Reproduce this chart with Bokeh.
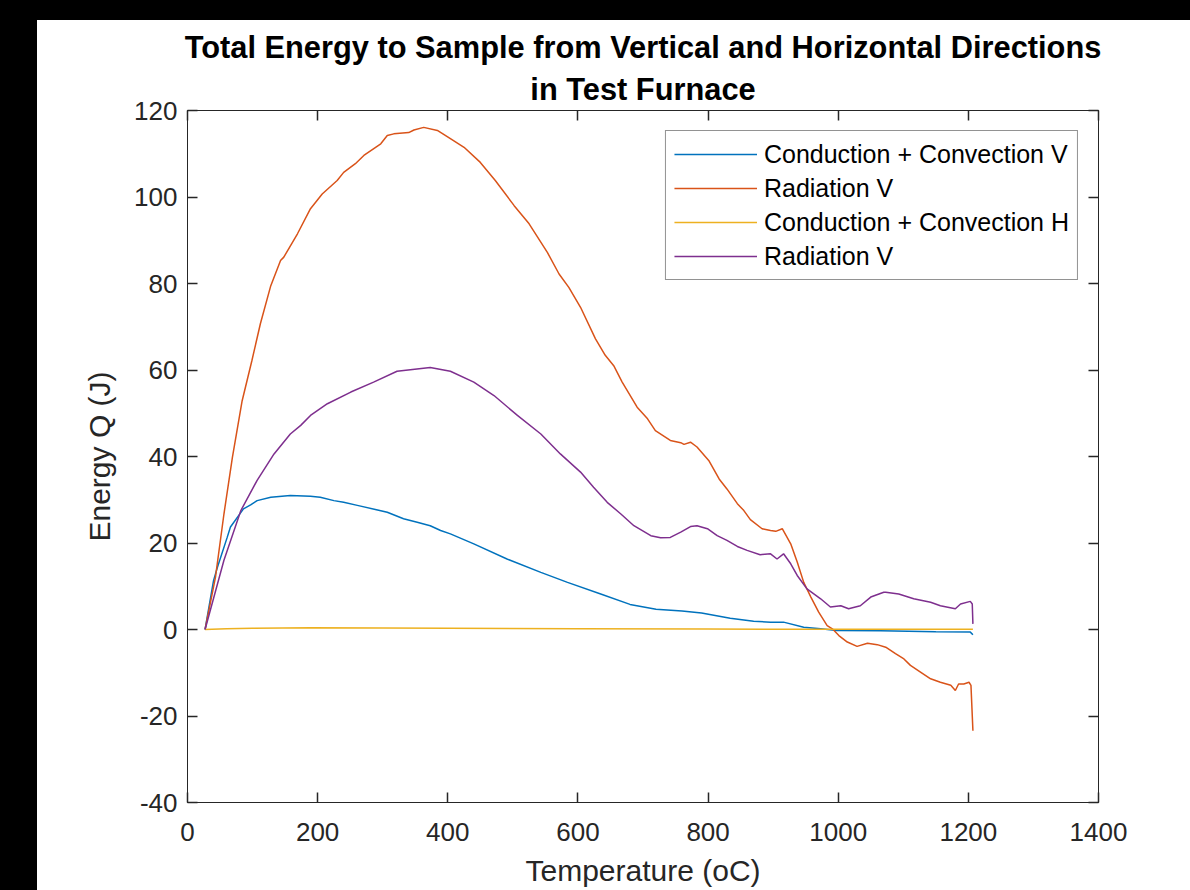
from bokeh.plotting import figure
from bokeh.models import (Legend, LegendItem, LinearAxis, FixedTicker, Spacer, Range1d, Title)
from bokeh.layouts import column, row
from bokeh.embed import file_html
from bokeh.resources import INLINE

# ---------------- data ----------------
title_line1 = "Total Energy to Sample from Vertical and Horizontal Directions"
title_line2 = "in Test Furnace"
x_label = "Temperature (oC)"
y_label = "Energy Q (J)"
x_ticks = [0, 200, 400, 600, 800, 1000, 1200, 1400]
y_ticks = [-40, -20, 0, 20, 40, 60, 80, 100, 120]

names = ["Conduction + Convection V", "Radiation V", "Conduction + Convection H", "Radiation V"]
colors = ["#0072BD", "#D95319", "#EDB120", "#7E2F8E"]

t_cond_v = [27, 40, 46, 61, 66, 86, 97, 107, 128, 158, 189, 204, 225, 240, 261, 302, 307,
            332, 353, 373, 389, 404, 440, 491, 543, 584, 635, 680, 720, 760, 790, 834, 870,
            896, 916, 947, 973, 998, 1065, 1150, 1203, 1207]
q_cond_v = [0, 11.3, 14.4, 21.3, 23.7, 27.9, 28.8, 29.8, 30.6, 31.0, 30.8, 30.6, 29.8, 29.4,
            28.7, 27.3, 27.1, 25.6, 24.8, 24.0, 22.9, 22.1, 19.8, 16.3, 13.2, 10.9, 8.2, 5.8,
            4.7, 4.3, 3.8, 2.6, 1.9, 1.7, 1.7, 0.5, 0.15, -0.23, -0.3, -0.5, -0.6, -1.2]

t_rad_v = [27, 43, 56, 69, 84, 99, 112, 128, 143, 148, 169, 189, 207, 230, 240, 258, 271,
           297, 307, 317, 340, 348, 363, 384, 404, 425, 450, 473, 502, 525, 553, 571, 586,
           604, 627, 642, 655, 668, 691, 707, 719, 742, 758, 763, 773, 783, 801, 817, 829,
           845, 855, 865, 883, 896, 904, 914, 927, 937, 947, 958, 970, 983, 991, 1001, 1014,
           1029, 1045, 1060, 1073, 1088, 1101, 1111, 1127, 1142, 1157, 1173, 1180, 1185,
           1193, 1201, 1204, 1207]
q_rad_v = [0, 12.1, 26.7, 39.8, 52.9, 62.2, 70.7, 79.5, 85.3, 86.1, 91.5, 97.3, 100.7,
           103.8, 105.7, 107.7, 109.6, 112.3, 114.2, 114.6, 114.9, 115.5, 116.1, 115.4, 113.5,
           111.5, 108.0, 103.8, 98.0, 93.8, 87.2, 82.2, 79.1, 74.5, 67.2, 63.4, 61.0, 57.2,
           51.4, 48.7, 46.0, 43.7, 43.2, 42.8, 43.3, 42.2, 39.1, 34.8, 32.5, 29.1, 27.5, 25.4,
           23.3, 22.9, 22.7, 23.3, 19.8, 15.6, 10.9, 7.5, 4.0, 0.9, 0.15, -1.4, -2.9, -3.9,
           -3.2, -3.5, -4.1, -5.6, -6.8, -8.3, -9.9, -11.4, -12.2, -12.9, -14.1, -12.6, -12.6,
           -12.2, -12.9, -23.4]

t_cond_h = [27, 60, 100, 189, 300, 400, 600, 800, 1000, 1207]
q_cond_h = [0, 0.2, 0.3, 0.4, 0.35, 0.3, 0.2, 0.1, 0.05, 0.05]

t_rad_h = [27, 56, 82, 107, 133, 158, 174, 189, 215, 251, 286, 322, 373, 404, 440, 471, 507,
           543, 573, 604, 624, 645, 666, 686, 712, 727, 742, 758, 773, 783, 799, 814, 829, 845,
           860, 880, 896, 906, 916, 927, 937, 952, 973, 988, 1004, 1016, 1034, 1050, 1070,
           1073, 1093, 1116, 1142, 1157, 1180, 1188, 1203, 1206, 1207]
q_rad_h = [0, 16.0, 27.5, 34.5, 40.6, 45.2, 47.2, 49.5, 52.2, 54.9, 57.2, 59.7, 60.6, 59.7,
           57.2, 54.1, 49.5, 45.2, 40.6, 36.4, 32.9, 29.4, 26.7, 24.0, 21.7, 21.2, 21.3, 22.5,
           23.8, 24.0, 23.3, 21.7, 20.6, 19.2, 18.3, 17.3, 17.5, 16.3, 17.5, 15.2, 12.5, 9.4,
           7.1, 5.2, 5.5, 4.8, 5.5, 7.5, 8.6, 8.6, 8.2, 7.1, 6.3, 5.5, 4.8, 5.9, 6.5, 5.9, 1.3]

series_t = [t_cond_v, t_rad_v, t_cond_h, t_rad_h]
series_q = [q_cond_v, q_rad_v, q_cond_h, q_rad_h]

# ---------------- figure ----------------
FONT = "Liberation Sans"
AX = "#262626"

p = figure(width=1153, height=870, output_backend="svg", toolbar_location=None,
           x_range=Range1d(0, 1400), y_range=Range1d(-40, 120), title=None,
           min_border_left=150, min_border_right=92, min_border_top=90, min_border_bottom=88,
           background_fill_color="white", border_fill_color="white")

p.xgrid.visible = False
p.ygrid.visible = False
p.outline_line_color = AX
p.outline_line_width = 1

def style_axis(ax, ticks, show_labels):
    ax.ticker = FixedTicker(ticks=ticks)
    ax.axis_line_color = AX
    ax.axis_line_width = 1
    ax.major_tick_line_color = AX
    ax.major_tick_line_width = 1.5
    ax.major_tick_in = 10
    ax.major_tick_out = 0
    ax.minor_tick_in = 0
    ax.minor_tick_out = 0
    ax.minor_tick_line_color = None
    ax.major_label_text_font = FONT
    ax.major_label_text_color = AX
    ax.axis_label_text_font = FONT
    ax.axis_label_text_color = AX
    ax.axis_label_text_font_style = "normal"
    ax.major_label_text_font_size = "26px"
    ax.major_label_overrides = {t: str(t) for t in ticks}
    if not show_labels:
        ax.major_label_text_color = None
        ax.major_label_standoff = 0

style_axis(p.xaxis[0], x_ticks, True)
style_axis(p.yaxis[0], y_ticks, True)
p.xaxis[0].axis_label = x_label
p.xaxis[0].axis_label_text_font_size = "30px"
p.xaxis[0].major_label_standoff = 20
p.xaxis[0].axis_label_standoff = 10
p.yaxis[0].axis_label = y_label
p.yaxis[0].axis_label_text_font_size = "30px"
p.yaxis[0].major_label_standoff = 10
p.yaxis[0].axis_label_standoff = 15

top_ax = LinearAxis()
style_axis(top_ax, x_ticks, False)
p.add_layout(top_ax, "above")
right_ax = LinearAxis()
style_axis(right_ax, y_ticks, False)
p.add_layout(right_ax, "right")

for txt, so in ((title_line2, 8), (title_line1, 2)):
    t = Title(text=txt, align="center", text_font=FONT, text_font_size="30.8px",
              text_font_style="bold", text_color="black", standoff=so)
    p.add_layout(t, "above")

items = []
for name, col, tt, qq in zip(names, colors, series_t, series_q):
    r = p.line(tt, qq, line_color=col, line_width=1.5)
    items.append(LegendItem(label=name, renderers=[r]))

legend = Legend(items=items, location="top_right", margin=20, padding=8, spacing=4,
                glyph_width=83, glyph_height=30, label_height=30, label_standoff=7,
                label_text_font=FONT, label_text_font_size="25px", label_text_color="black",
                border_line_color=AX, border_line_width=1, background_fill_color="white",
                background_fill_alpha=1.0)
p.add_layout(legend)

top_bar = Spacer(width=1190, height=20, styles={"background-color": "black"})
left_bar = Spacer(width=37, height=870, styles={"background-color": "black"})
layout = column(top_bar, row(left_bar, p, spacing=0), spacing=0)

open("out.html", "w").write(file_html(layout, INLINE))
